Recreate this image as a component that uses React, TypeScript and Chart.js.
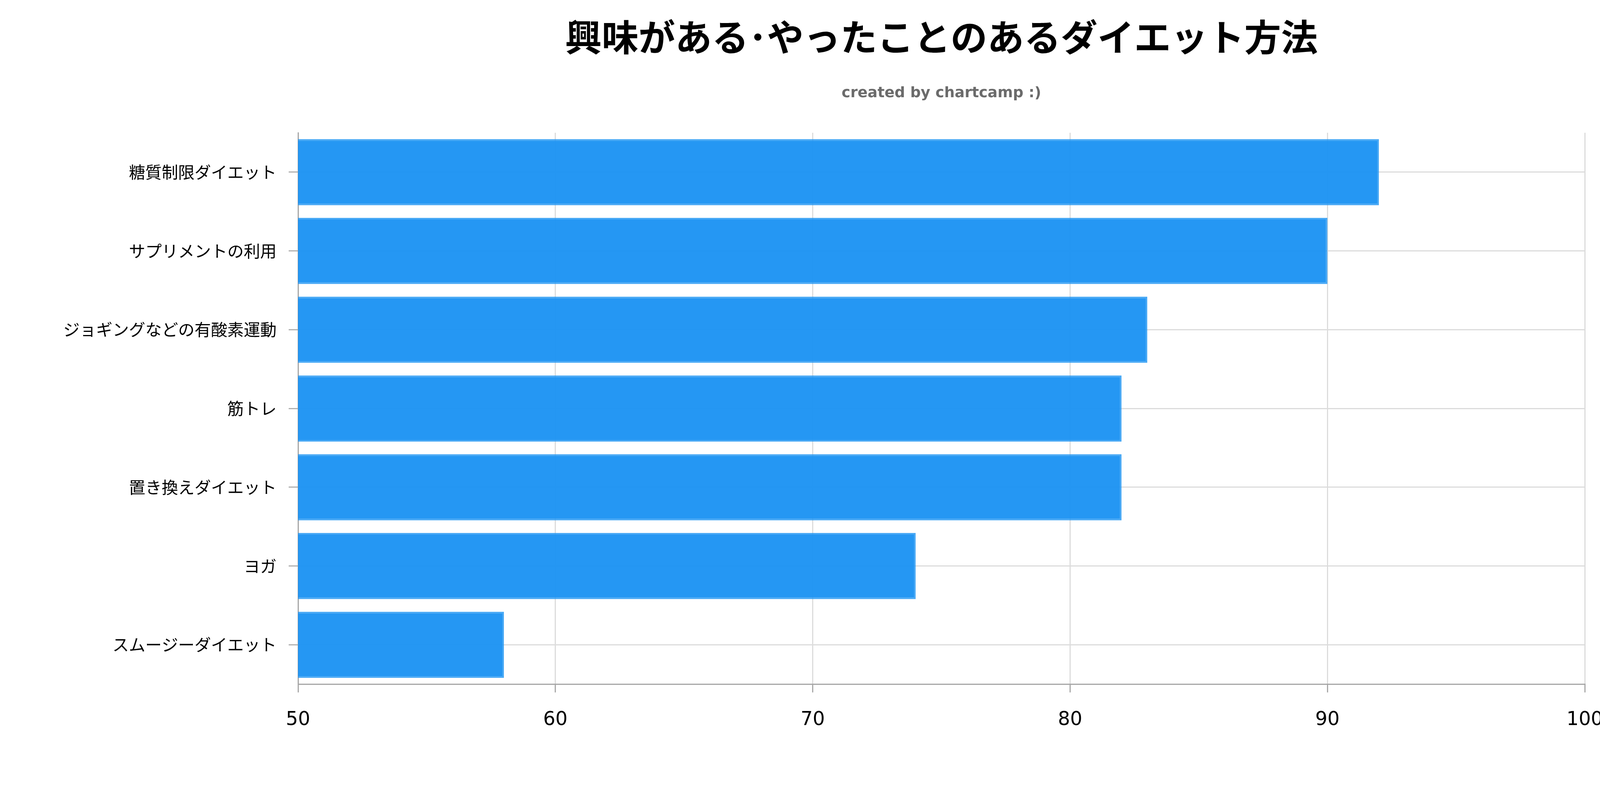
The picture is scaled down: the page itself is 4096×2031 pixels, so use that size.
import React, { useEffect, useRef } from "react";
import { Chart, registerables } from "chart.js";

Chart.register(...registerables);

const TITLE = "興味がある･やったことのあるダイエット方法";
const SUBTITLE = "created by chartcamp :)";
const categories = [
  "糖質制限ダイエット",
  "サプリメントの利用",
  "ジョギングなどの有酸素運動",
  "筋トレ",
  "置き換えダイエット",
  "ヨガ",
  "スムージーダイエット",
];
const values = [92, 90, 83, 82, 82, 74, 58];
const xMin = 50;
const xMax = 100;
const xStep = 10;

const W = 4096;
const H = 2031;

export default function App() {
  const ref = useRef<HTMLCanvasElement | null>(null);

  useEffect(() => {
    document.body.style.margin = "0";
    const canvas = ref.current;
    if (!canvas) return;
    const chart = new Chart(canvas, {
      type: "bar",
      data: {
        labels: categories,
        datasets: [
          {
            data: values,
            backgroundColor: "rgba(25,145,242,0.95)",
            borderColor: "rgba(33,150,243,0.82)",
            borderWidth: 4,
            categoryPercentage: 1,
            barPercentage: 0.84,
          },
        ],
      },
      options: {
        indexAxis: "y",
        responsive: false,
        animation: false,
        devicePixelRatio: 1,
        layout: { padding: { left: 0, right: 39, top: 0, bottom: 0 } },
        plugins: {
          legend: { display: false },
          tooltip: { enabled: false },
          title: {
            display: true,
            text: TITLE,
            fullSize: false,
            color: "#000",
            font: { family: '"Noto Sans CJK JP"', size: 94, weight: "bold", lineHeight: 1.2 },
            padding: { top: 39, bottom: 0 },
          },
          subtitle: {
            display: true,
            text: SUBTITLE,
            fullSize: false,
            color: "#6b6b6b",
            font: { family: '"DejaVu Sans"', size: 37.7, weight: "bold", lineHeight: 1.2 },
            padding: { top: 65, bottom: 78 },
          },
        },
        scales: {
          x: {
            type: "linear",
            position: "bottom",
            min: xMin,
            max: xMax,
            ticks: {
              stepSize: xStep,
              color: "#000",
              font: { family: '"DejaVu Sans"', size: 49 },
              padding: 41,
            },
            grid: {
              color: "#dcdcdc",
              lineWidth: 3,
              tickLength: 21,
              tickColor: "#a8a8a8",
              tickWidth: 3,
            },
            border: { color: "#a6a6a6", width: 3 },
            afterFit: (s: any) => {
              s.height = 278.6;
              s.paddingLeft = 0;
              s.paddingRight = 0;
            },
          },
          y: {
            type: "category",
            grid: {
              offset: false,
              color: "#dcdcdc",
              lineWidth: 3,
              tickLength: 24,
              tickColor: "#b0b0b0",
              tickWidth: 3,
            },
            border: { color: "#a6a6a6", width: 3 },
            ticks: {
              color: "#000",
              font: { family: '"Noto Sans CJK JP"', size: 42 },
              padding: 31,
            },
            afterFit: (s: any) => {
              s.width = 763;
              s.paddingTop = 0;
              s.paddingBottom = 0;
            },
          },
        },
      } as any,
    });
    return () => chart.destroy();
  }, []);

  return (
    <div style={{ width: W, height: H }}>
      <canvas ref={ref} width={W} height={H} style={{ display: "block", width: W, height: H }} />
    </div>
  );
}
